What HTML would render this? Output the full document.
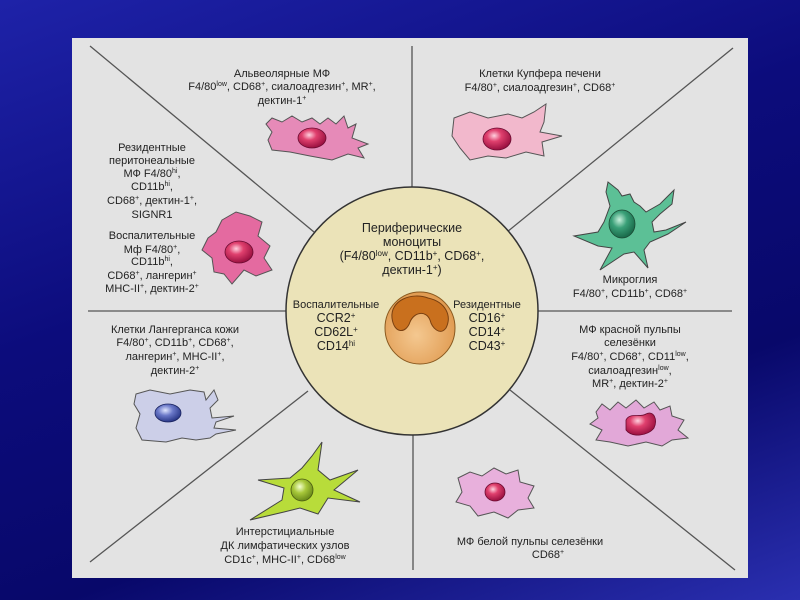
<!DOCTYPE html>
<html><head><meta charset="utf-8"><style>
html,body{margin:0;padding:0;width:800px;height:600px;overflow:hidden;}
body{background:linear-gradient(160deg,#1e22a8 0%,#0c0c7c 40%,#08086a 70%,#2a2fb0 100%);}
svg{position:absolute;left:0;top:0;}
text{font-family:"Liberation Sans","DejaVu Sans",sans-serif;font-size:11px;fill:#222;text-anchor:middle;}
.c{font-size:12.5px;}
</style></head><body>
<svg width="800" height="600" viewBox="0 0 800 600">
<defs>
<radialGradient id="nr" cx="40%" cy="35%" r="65%"><stop offset="0" stop-color="#ffd0de"/><stop offset=".4" stop-color="#e0406e"/><stop offset="1" stop-color="#9a1040"/></radialGradient>
<radialGradient id="ng" cx="40%" cy="35%" r="65%"><stop offset="0" stop-color="#c8f0dc"/><stop offset=".45" stop-color="#3aa078"/><stop offset="1" stop-color="#1a6a4a"/></radialGradient>
<radialGradient id="nb" cx="40%" cy="35%" r="65%"><stop offset="0" stop-color="#e0e6ff"/><stop offset=".45" stop-color="#6a78c8"/><stop offset="1" stop-color="#2a3888"/></radialGradient>
<radialGradient id="ny" cx="40%" cy="35%" r="65%"><stop offset="0" stop-color="#f4ffd0"/><stop offset=".45" stop-color="#a8c83a"/><stop offset="1" stop-color="#6a8a1a"/></radialGradient>
<radialGradient id="mo" cx="45%" cy="60%" r="60%"><stop offset="0" stop-color="#f4c890"/><stop offset="1" stop-color="#e09a50"/></radialGradient>
</defs>
<rect x="72" y="38" width="676" height="540" fill="#e3e3e3"/>
<g stroke="#555" stroke-width="1.3" fill="none">
<line x1="90" y1="46" x2="314" y2="232"/>
<line x1="733" y1="48" x2="507" y2="232"/>
<line x1="90" y1="562" x2="308" y2="391"/>
<line x1="735" y1="570" x2="510" y2="390"/>
<line x1="412" y1="46" x2="412" y2="188"/>
<line x1="413" y1="434" x2="413" y2="570"/>
<line x1="88" y1="311" x2="288" y2="311"/>
<line x1="537" y1="311" x2="732" y2="311"/>
</g>
<ellipse cx="412" cy="311" rx="126" ry="124" fill="#ebe3b8" stroke="#333" stroke-width="1.5"/>
<ellipse cx="420" cy="328" rx="35" ry="36" fill="url(#mo)" stroke="#8a5a20" stroke-width="1"/>
<path d="M392,318 C390,300 412,292 428,298 C446,302 452,316 446,328 C440,336 432,328 430,320 C426,310 414,312 410,322 C406,334 394,334 392,318Z" fill="#c9701e" stroke="#7a4010" stroke-width="1"/>
<text class="c" x="412" y="232">Периферические</text>
<text class="c" x="412" y="246">моноциты</text>
<text class="c" x="412" y="260">(F4/80<tspan font-size="8" dy="-4">low</tspan><tspan dy="4">, CD11b</tspan><tspan font-size="8" dy="-4">+</tspan><tspan dy="4">, CD68</tspan><tspan font-size="8" dy="-4">+</tspan><tspan dy="4">,</tspan></text>
<text class="c" x="412" y="274">дектин-1<tspan font-size="8" dy="-4">+</tspan><tspan dy="4">)</tspan></text>
<text x="336" y="308">Воспалительные</text>
<text class="c" x="336" y="322">CCR2<tspan font-size="8" dy="-4">+</tspan></text>
<text class="c" x="336" y="336">CD62L<tspan font-size="8" dy="-4">+</tspan></text>
<text class="c" x="336" y="350">CD14<tspan font-size="8" dy="-4">hi</tspan></text>
<text x="487" y="308">Резидентные</text>
<text class="c" x="487" y="322">CD16<tspan font-size="8" dy="-4">+</tspan></text>
<text class="c" x="487" y="336">CD14<tspan font-size="8" dy="-4">+</tspan></text>
<text class="c" x="487" y="350">CD43<tspan font-size="8" dy="-4">+</tspan></text>

<text x="282" y="77">Альвеолярные МФ</text>
<text x="282" y="90">F4/80<tspan font-size="7" dy="-4">low</tspan><tspan dy="4">, CD68</tspan><tspan font-size="7" dy="-4">+</tspan><tspan dy="4">, сиалоадгезин</tspan><tspan font-size="7" dy="-4">+</tspan><tspan dy="4">, MR</tspan><tspan font-size="7" dy="-4">+</tspan><tspan dy="4">,</tspan></text>
<text x="282" y="104">дектин-1<tspan font-size="7" dy="-4">+</tspan></text>
<path d="M266,124 L272,118 L282,122 L292,116 L302,122 L312,118 L320,124 L328,118 L336,124 L344,116 L348,128 L356,124 L352,138 L368,144 L358,148 L364,158 L348,154 L332,160 L310,156 L290,152 L272,150 L268,140 L272,132Z" fill="#e68ab8" stroke="#555" stroke-width="1"/>
<ellipse cx="312" cy="138" rx="14" ry="10" fill="url(#nr)" stroke="#6a0a30" stroke-width=".8"/>

<text x="152" y="151">Резидентные</text>
<text x="152" y="164">перитонеальные</text>
<text x="152" y="177">МФ F4/80<tspan font-size="7" dy="-4">hi</tspan><tspan dy="4">,</tspan></text>
<text x="152" y="190">CD11b<tspan font-size="7" dy="-4">hi</tspan><tspan dy="4">,</tspan></text>
<text x="152" y="204">CD68<tspan font-size="7" dy="-4">+</tspan><tspan dy="4">, дектин-1</tspan><tspan font-size="7" dy="-4">+</tspan><tspan dy="4">,</tspan></text>
<text x="152" y="218">SIGNR1</text>
<text x="152" y="239">Воспалительные</text>
<text x="152" y="253">Мф F4/80<tspan font-size="7" dy="-4">+</tspan><tspan dy="4">,</tspan></text>
<text x="152" y="265">CD11b<tspan font-size="7" dy="-4">hi</tspan><tspan dy="4">,</tspan></text>
<text x="152" y="279">CD68<tspan font-size="7" dy="-4">+</tspan><tspan dy="4">, лангерин</tspan><tspan font-size="7" dy="-4">+</tspan></text>
<text x="152" y="292">MHC-II<tspan font-size="7" dy="-4">+</tspan><tspan dy="4">, дектин-2</tspan><tspan font-size="7" dy="-4">+</tspan></text>
<path d="M222,220 L236,212 L250,216 L262,222 L258,236 L270,246 L264,258 L272,270 L256,276 L244,270 L232,284 L224,274 L214,272 L212,258 L202,250 L208,238 L216,232Z" fill="#e46aa0" stroke="#555" stroke-width="1"/>
<ellipse cx="239" cy="252" rx="14" ry="11" fill="url(#nr)" stroke="#6a0a30" stroke-width=".8"/>

<text x="540" y="77">Клетки Купфера печени</text>
<text x="540" y="91">F4/80<tspan font-size="7" dy="-4">+</tspan><tspan dy="4">, сиалоадгезин</tspan><tspan font-size="7" dy="-4">+</tspan><tspan dy="4">, CD68</tspan><tspan font-size="7" dy="-4">+</tspan></text>
<path d="M454,118 L470,112 L488,118 L508,114 L522,118 L534,112 L546,104 L544,122 L540,132 L562,136 L542,142 L544,156 L526,152 L506,158 L488,156 L470,160 L460,148 L452,136Z" fill="#f2b8cc" stroke="#555" stroke-width="1"/>
<ellipse cx="497" cy="139" rx="14" ry="11" fill="url(#nr)" stroke="#6a0a30" stroke-width=".8"/>

<path d="M608,182 L618,190 L622,196 L630,194 L634,202 L640,206 L646,212 L660,204 L668,196 L674,190 L672,204 L660,214 L652,222 L654,232 L666,230 L686,222 L668,234 L650,242 L644,250 L648,268 L634,252 L624,254 L600,270 L612,248 L598,246 L574,236 L598,232 L604,222 L610,206 L606,192Z" fill="#5cc096" stroke="#444" stroke-width="1"/>
<ellipse cx="622" cy="224" rx="13" ry="14" fill="url(#ng)" stroke="#1a4a34" stroke-width=".8"/>
<text x="630" y="283">Микроглия</text>
<text x="630" y="297">F4/80<tspan font-size="7" dy="-4">+</tspan><tspan dy="4">, CD11b</tspan><tspan font-size="7" dy="-4">+</tspan><tspan dy="4">, CD68</tspan><tspan font-size="7" dy="-4">+</tspan></text>

<text x="630" y="333">МФ красной пульпы</text>
<text x="630" y="346">селезёнки</text>
<text x="630" y="360">F4/80<tspan font-size="7" dy="-4">+</tspan><tspan dy="4">, CD68</tspan><tspan font-size="7" dy="-4">+</tspan><tspan dy="4">, CD11</tspan><tspan font-size="7" dy="-4">low</tspan><tspan dy="4">,</tspan></text>
<text x="630" y="374">сиалоадгезин<tspan font-size="7" dy="-4">low</tspan><tspan dy="4">,</tspan></text>
<text x="630" y="387">MR<tspan font-size="7" dy="-4">+</tspan><tspan dy="4">, дектин-2</tspan><tspan font-size="7" dy="-4">+</tspan></text>
<path d="M596,412 L602,404 L610,410 L618,402 L626,408 L636,400 L644,408 L654,402 L660,410 L670,406 L672,416 L684,420 L678,430 L688,438 L672,440 L662,446 L646,442 L628,446 L610,442 L596,440 L602,430 L590,424 L598,418Z" fill="#e2a8d8" stroke="#555" stroke-width="1"/>
<path d="M626,420 C630,412 640,418 646,414 C654,410 658,420 654,428 C648,436 632,438 626,430Z" fill="url(#nr)" stroke="#6a0a30" stroke-width=".8"/>

<path d="M458,478 L470,472 L482,476 L494,468 L506,474 L518,470 L520,482 L534,486 L528,498 L534,508 L518,510 L508,518 L494,512 L478,516 L470,506 L456,502 L462,492Z" fill="#e8b0dc" stroke="#555" stroke-width="1"/>
<ellipse cx="495" cy="492" rx="10" ry="9" fill="url(#nr)" stroke="#6a0a30" stroke-width=".8"/>
<text x="530" y="545">МФ белой пульпы селезёнки</text>
<text x="548" y="558">CD68<tspan font-size="7" dy="-4">+</tspan></text>

<text x="175" y="333">Клетки Лангерганса кожи</text>
<text x="175" y="346">F4/80<tspan font-size="7" dy="-4">+</tspan><tspan dy="4">, CD11b</tspan><tspan font-size="7" dy="-4">+</tspan><tspan dy="4">, CD68</tspan><tspan font-size="7" dy="-4">+</tspan><tspan dy="4">,</tspan></text>
<text x="175" y="360">лангерин<tspan font-size="7" dy="-4">+</tspan><tspan dy="4">, MHC-II</tspan><tspan font-size="7" dy="-4">+</tspan><tspan dy="4">,</tspan></text>
<text x="175" y="374">дектин-2<tspan font-size="7" dy="-4">+</tspan></text>
<path d="M136,394 L150,390 L170,394 L190,390 L204,392 L206,400 L214,390 L218,400 L210,408 L212,418 L234,416 L216,422 L214,428 L236,430 L216,434 L210,438 L196,440 L182,438 L166,442 L142,440 L136,428 L140,414 L134,404Z" fill="#cccfe8" stroke="#555" stroke-width="1"/>
<ellipse cx="168" cy="413" rx="13" ry="9" fill="url(#nb)" stroke="#1a2460" stroke-width=".8"/>

<path d="M322,442 L318,470 L330,480 L358,470 L334,490 L360,502 L328,498 L318,514 L300,508 L284,512 L250,520 L282,500 L284,488 L258,480 L290,478 L302,468 L312,456Z" fill="#b8dc3a" stroke="#444" stroke-width="1"/>
<ellipse cx="302" cy="490" rx="11" ry="11" fill="url(#ny)" stroke="#4a5a10" stroke-width=".8"/>
<text x="285" y="535">Интерстициальные</text>
<text x="285" y="549">ДК лимфатических узлов</text>
<text x="285" y="563">CD1c<tspan font-size="7" dy="-4">+</tspan><tspan dy="4">, MHC-II</tspan><tspan font-size="7" dy="-4">+</tspan><tspan dy="4">, CD68</tspan><tspan font-size="7" dy="-4">low</tspan></text>
</svg>
</body></html>
